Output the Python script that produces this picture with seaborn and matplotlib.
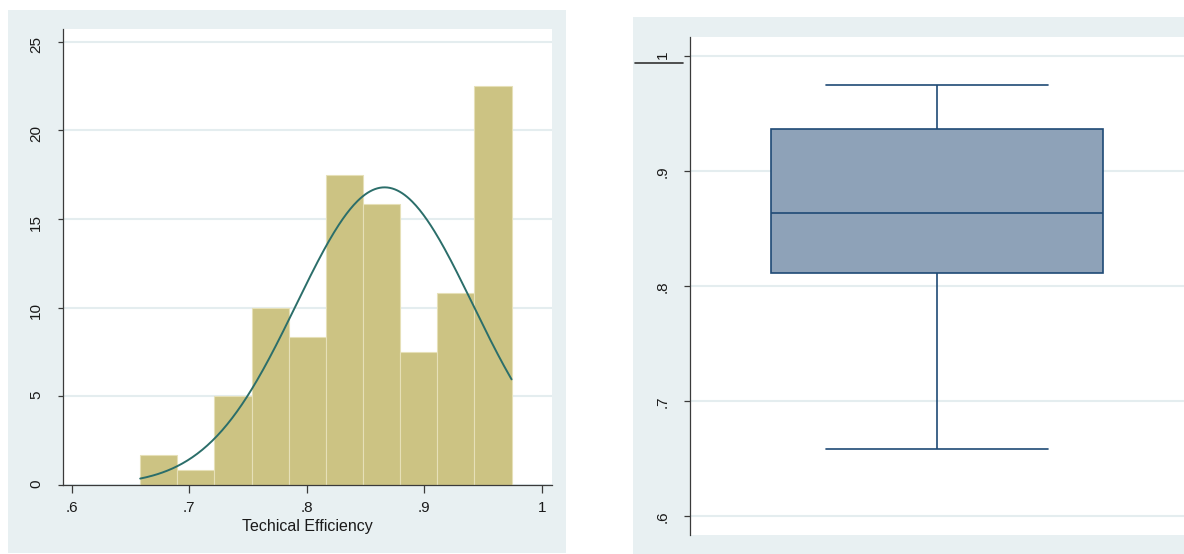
import numpy as np
import matplotlib
matplotlib.use("Agg")
import matplotlib.pyplot as plt
import seaborn as sns
from matplotlib.patches import Rectangle
from matplotlib.lines import Line2D

# ---------------- data ----------------
bin_edges = [0.6583, 0.6899, 0.7215, 0.7531, 0.7847, 0.8163,
             0.8479, 0.8795, 0.9111, 0.9428, 0.9744]
bin_percent = [1.67, 0.83, 5.0, 10.0, 8.33, 17.5, 15.83, 7.5, 10.83, 22.5]
normal_mean = 0.8663
normal_sd = 0.0751
# min, q1, median, q3, max of technical efficiency
box_summary = [0.6583, 0.8107, 0.8636, 0.9363, 0.9744]

hist_x_ticks = [0.6, 0.7, 0.8, 0.9, 1.0]
hist_x_tick_labels = ['.6', '.7', '.8', '.9', '1']
hist_y_ticks = [0, 5, 10, 15, 20, 25]
hist_y_tick_labels = ['0', '5', '10', '15', '20', '25']
box_y_ticks = [0.6, 0.7, 0.8, 0.9, 1.0]
box_y_tick_labels = ['.6', '.7', '.8', '.9', '1']
x_label = "Techical Efficiency"

# ---------------- style ----------------
sns.set_theme(style="white")
plt.rcParams['font.family'] = ['Liberation Sans Narrow', 'Liberation Sans', 'DejaVu Sans']

W, H = 1184, 554
bg = '#E8F0F2'
grid_c = '#E4EDEF'
bar_c = '#CCC383'
bar_edge = '#E6E0B8'
curve_c = '#2B6E6A'
box_fill = '#8EA2B8'
box_edge = '#1F4A75'
axis_c = '#3A3A3A'
FS = 11

fig = plt.figure(figsize=(W / 100, H / 100), dpi=100)
fig.patch.set_facecolor('white')

fig.add_artist(Rectangle((7.7 / W, 1 - 553 / H), (566 - 7.7) / W, (553 - 10) / H,
                         transform=fig.transFigure, facecolor=bg, edgecolor='none', zorder=-5))
fig.add_artist(Rectangle((633 / W, 0), (1184 - 633) / W, (554 - 17) / H,
                         transform=fig.transFigure, facecolor=bg, edgecolor='none', zorder=-5))

ax1 = fig.add_axes([62.7 / W, 1 - 485 / H, (552 - 62.7) / W, (485 - 29.3) / H])
ax2 = fig.add_axes([690 / W, 1 - 535 / H, (1184 - 690) / W, (535 - 36.7) / H])

# ---------------- histogram ----------------
centers = [(a + b) / 2 for a, b in zip(bin_edges[:-1], bin_edges[1:])]
sns.histplot(x=centers, weights=bin_percent, bins=bin_edges, stat='count',
             color=bar_c, alpha=1, edgecolor=bar_edge, linewidth=0.8, ax=ax1, zorder=2)

bw = bin_edges[1] - bin_edges[0]
xs = np.linspace(bin_edges[0], bin_edges[-1], 300)
ys = 100 * bw * np.exp(-0.5 * ((xs - normal_mean) / normal_sd) ** 2) / (normal_sd * np.sqrt(2 * np.pi))
sns.lineplot(x=xs, y=ys, color=curve_c, linewidth=1.4, ax=ax1, zorder=3)

ax1.set_facecolor('white')
ax1.set_xlim(0.59234, 1.0088)
ax1.set_ylim(0, 25.7)
ax1.set_xticks(hist_x_ticks)
ax1.set_xticklabels(hist_x_tick_labels)
ax1.set_yticks(hist_y_ticks)
ax1.set_yticklabels(hist_y_tick_labels)
ax1.yaxis.grid(True, color=grid_c, linewidth=1.5)
ax1.xaxis.grid(False)
ax1.set_axisbelow(True)
ax1.set_xlabel(x_label, fontsize=FS + 0.5, color='#1a1a1a', labelpad=3)
ax1.set_ylabel('')
for s in ['top', 'right']:
    ax1.spines[s].set_visible(False)
for s in ['left', 'bottom']:
    ax1.spines[s].set_color(axis_c)
    ax1.spines[s].set_linewidth(0.9)
ax1.tick_params(axis='y', length=3.6, width=0.9, color=axis_c, pad=10.5,
                labelrotation=90, labelsize=FS, labelcolor='#1a1a1a', left=True)
ax1.tick_params(axis='x', length=5.8, width=0.9, color=axis_c, pad=5.5,
                labelsize=FS, labelcolor='#1a1a1a', bottom=True)

# ---------------- box plot ----------------
sns.boxplot(y=box_summary, whis=(0, 100), width=0.672, color=box_fill,
            linecolor=box_edge, linewidth=1.2, fliersize=0, saturation=1,
            capwidths=0.449, ax=ax2, zorder=2)
ax2.set_facecolor('white')
ax2.set_xlim(-0.5, 0.5)
ax2.set_ylim(0.5832, 1.0166)
ax2.set_yticks(box_y_ticks)
ax2.set_yticklabels(box_y_tick_labels)
ax2.yaxis.grid(True, color=grid_c, linewidth=1.5)
ax2.xaxis.grid(False)
ax2.set_axisbelow(True)
ax2.set_xticks([])
ax2.set_xlabel('')
ax2.set_ylabel('')
for s in ['top', 'right', 'bottom']:
    ax2.spines[s].set_visible(False)
ax2.spines['left'].set_color(axis_c)
ax2.spines['left'].set_linewidth(0.9)
ax2.tick_params(axis='y', length=4.3, width=0.9, color=axis_c, pad=10.5,
                labelrotation=90, labelsize=FS, labelcolor='#1a1a1a', left=True)

# small stray rule at the top-left of the right panel
fig.add_artist(Line2D([635 / W, 683 / W], [1 - 62.7 / H, 1 - 62.7 / H],
                      transform=fig.transFigure, color='#333333', linewidth=1.2))

fig.savefig('out.png', dpi=100, facecolor='white')
